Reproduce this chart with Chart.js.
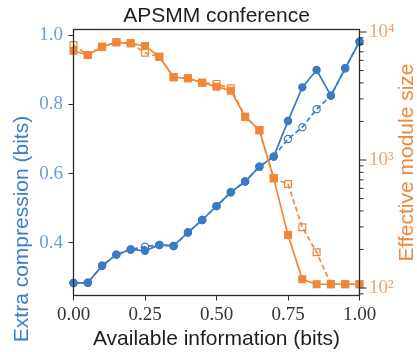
<!DOCTYPE html>
<html lang="en">
<head>
    <meta charset="UTF-8">
    <title>APSMM conference</title>
    <script src="https://cdn.jsdelivr.net/npm/chart.js"></script>
    <style>
        html, body {
            margin: 0;
            padding: 0;
            background: #fff;
        }
        .chart-container {
            width: 417px;
            height: 352px;
        }
    </style>
</head>
<body>
    <div class="chart-container">
        <canvas id="myChart" width="417" height="352"></canvas>
    </div>

    <script>
        // values
        const availableInfo = [0.00, 0.05, 0.10, 0.15, 0.20, 0.25, 0.30, 0.35, 0.40, 0.45, 0.50,
                               0.55, 0.60, 0.65, 0.70, 0.75, 0.80, 0.85, 0.90, 0.95, 1.00];
        const compressionSolid = [0.284, 0.285, 0.334, 0.366, 0.381, 0.377, 0.394, 0.391, 0.430, 0.466, 0.506,
                                  0.546, 0.577, 0.620, 0.649, 0.752, 0.849, 0.899, 0.825, 0.904, 0.981];
        const compressionDashed = [0.284, 0.285, 0.334, 0.366, 0.381, 0.389, 0.394, 0.391, 0.430, 0.466, 0.506,
                                   0.546, 0.577, 0.620, 0.649, 0.700, 0.734, 0.786, 0.825, 0.904, 0.981];
        const moduleSizeSolid = [7140, 6600, 7670, 8300, 8160, 7780, 6410, 4430, 4350, 4020, 3740,
                                 3480, 2180, 1710, 719, 259, 117, 107, 107, 107, 107];
        const moduleSizeDashed = [7910, 6600, 7670, 8300, 8160, 6890, 6410, 4430, 4350, 4020, 3930,
                                  3630, 2180, 1710, 719, 649, 298, 190, 107, 107, 107];

        const xTicks = [0, 0.25, 0.5, 0.75, 1];
        const compressionTicks = [0.4, 0.6, 0.8, 1.0];
        const moduleMajorTicks = [100, 1000, 10000];
        const moduleMinorTicks = [90, 200, 300, 400, 500, 600, 700, 800, 900,
                                  2000, 3000, 4000, 5000, 6000, 7000, 8000, 9000];
        const superscripts = { 2: '\u00b2', 3: '\u00b3', 4: '\u2074' };

        const BLUE = '#3a7bc4';
        const ORANGE = '#f08638';
        const AXIS = '#2b2b2b';
        const serif = "'Liberation Serif', 'DejaVu Serif', serif";
        const sans = "'Liberation Sans', Arial, sans-serif";

        function pairs(ys) {
            return availableInfo.map((x, i) => ({ x: x, y: ys[i] }));
        }

        function series(label, ys, color, axis, style, dashed) {
            return {
                label: label,
                data: pairs(ys),
                yAxisID: axis,
                borderColor: color,
                borderWidth: 1.7,
                borderDash: dashed ? [5, 3] : [],
                pointStyle: style,
                pointRadius: style === 'rect' ? 4.8 : 3.6,
                pointBorderWidth: 1.2,
                pointBorderColor: color,
                pointBackgroundColor: dashed ? 'rgba(0,0,0,0)' : color,
                tension: 0,
                clip: false
            };
        }

        // frame, right-axis ticks and vertical axis titles
        const decorations = {
            id: 'decorations',
            afterDraw(chart) {
                const { ctx, chartArea: a } = chart;
                const y1 = chart.scales.y1;
                ctx.save();
                ctx.strokeStyle = AXIS;
                ctx.lineWidth = 1.3;
                ctx.strokeRect(a.left, a.top, a.right - a.left, a.bottom - a.top);

                ctx.lineWidth = 1;
                moduleMajorTicks.concat(moduleMinorTicks).forEach(v => {
                    const y = y1.getPixelForValue(v);
                    const len = moduleMajorTicks.includes(v) ? 7 : 4;
                    ctx.beginPath();
                    ctx.moveTo(a.right, y);
                    ctx.lineTo(a.right + len, y);
                    ctx.stroke();
                });

                ctx.font = '21px ' + sans;
                ctx.textAlign = 'center';
                ctx.textBaseline = 'middle';

                ctx.save();
                ctx.translate(22.5, 229);
                ctx.rotate(-Math.PI / 2);
                ctx.fillStyle = '#3c7dc8';
                ctx.fillText('Extra compression (bits)', 0, 0);
                ctx.restore();

                ctx.save();
                ctx.translate(407, (a.top + a.bottom) / 2);
                ctx.rotate(-Math.PI / 2);
                ctx.fillStyle = '#f0883c';
                ctx.fillText('Effective module size', 0, 0);
                ctx.restore();

                ctx.restore();
            }
        };

        const ctx = document.getElementById('myChart').getContext('2d');
        new Chart(ctx, {
            type: 'line',
            data: {
                datasets: [
                    series('Effective module size', moduleSizeSolid, ORANGE, 'y1', 'rect', false),
                    series('Effective module size (dashed)', moduleSizeDashed, ORANGE, 'y1', 'rect', true),
                    series('Extra compression', compressionSolid, BLUE, 'y', 'circle', false),
                    series('Extra compression (dashed)', compressionDashed, BLUE, 'y', 'circle', true)
                ]
            },
            options: {
                responsive: false,
                animation: false,
                events: [],
                layout: { padding: 0 },
                plugins: {
                    legend: { display: false },
                    tooltip: { enabled: false },
                    title: {
                        display: true,
                        text: 'APSMM conference',
                        fullSize: false,
                        color: '#1e1e1e',
                        font: { family: sans, size: 21, weight: 'normal', lineHeight: 1.2 },
                        padding: { top: 4, bottom: 0.3 }
                    }
                },
                scales: {
                    x: {
                        type: 'linear',
                        min: 0,
                        max: 1,
                        afterFit: s => { s.height = 56.5; },
                        afterBuildTicks: s => { s.ticks = xTicks.map(v => ({ value: v })); },
                        grid: { drawOnChartArea: false, color: AXIS, tickLength: 5, lineWidth: 1 },
                        border: { display: false },
                        ticks: {
                            padding: 3,
                            color: '#333',
                            font: { family: serif, size: 19 },
                            maxRotation: 0,
                            autoSkip: false,
                            callback: v => Number(v).toFixed(2)
                        },
                        title: {
                            display: true,
                            text: 'Available information (bits)',
                            color: '#1e1e1e',
                            font: { family: sans, size: 21, lineHeight: 1.2 },
                            padding: { top: 0, bottom: 0 }
                        }
                    },
                    y: {
                        type: 'linear',
                        position: 'left',
                        min: 0.248,
                        max: 1.016,
                        afterFit: s => { s.width = 73.5; },
                        afterBuildTicks: s => { s.ticks = compressionTicks.map(v => ({ value: v })); },
                        grid: { drawOnChartArea: false, color: AXIS, tickLength: 5, lineWidth: 1 },
                        border: { display: false },
                        ticks: {
                            padding: 5.5,
                            color: '#6a9dd8',
                            font: { family: serif, size: 19 },
                            autoSkip: false,
                            callback: v => Number(v).toFixed(1)
                        }
                    },
                    y1: {
                        type: 'logarithmic',
                        position: 'right',
                        min: 87.4,
                        max: 10457,
                        afterFit: s => { s.width = 57.5; },
                        afterBuildTicks: s => { s.ticks = moduleMajorTicks.map(v => ({ value: v })); },
                        grid: { display: false, drawTicks: false },
                        border: { display: false },
                        ticks: {
                            padding: 9.5,
                            color: '#f4a263',
                            font: { family: serif, size: 19 },
                            autoSkip: false,
                            callback: v => '10' + superscripts[Math.round(Math.log10(v))]
                        }
                    }
                }
            },
            plugins: [decorations]
        });
    </script>
</body>
</html>
